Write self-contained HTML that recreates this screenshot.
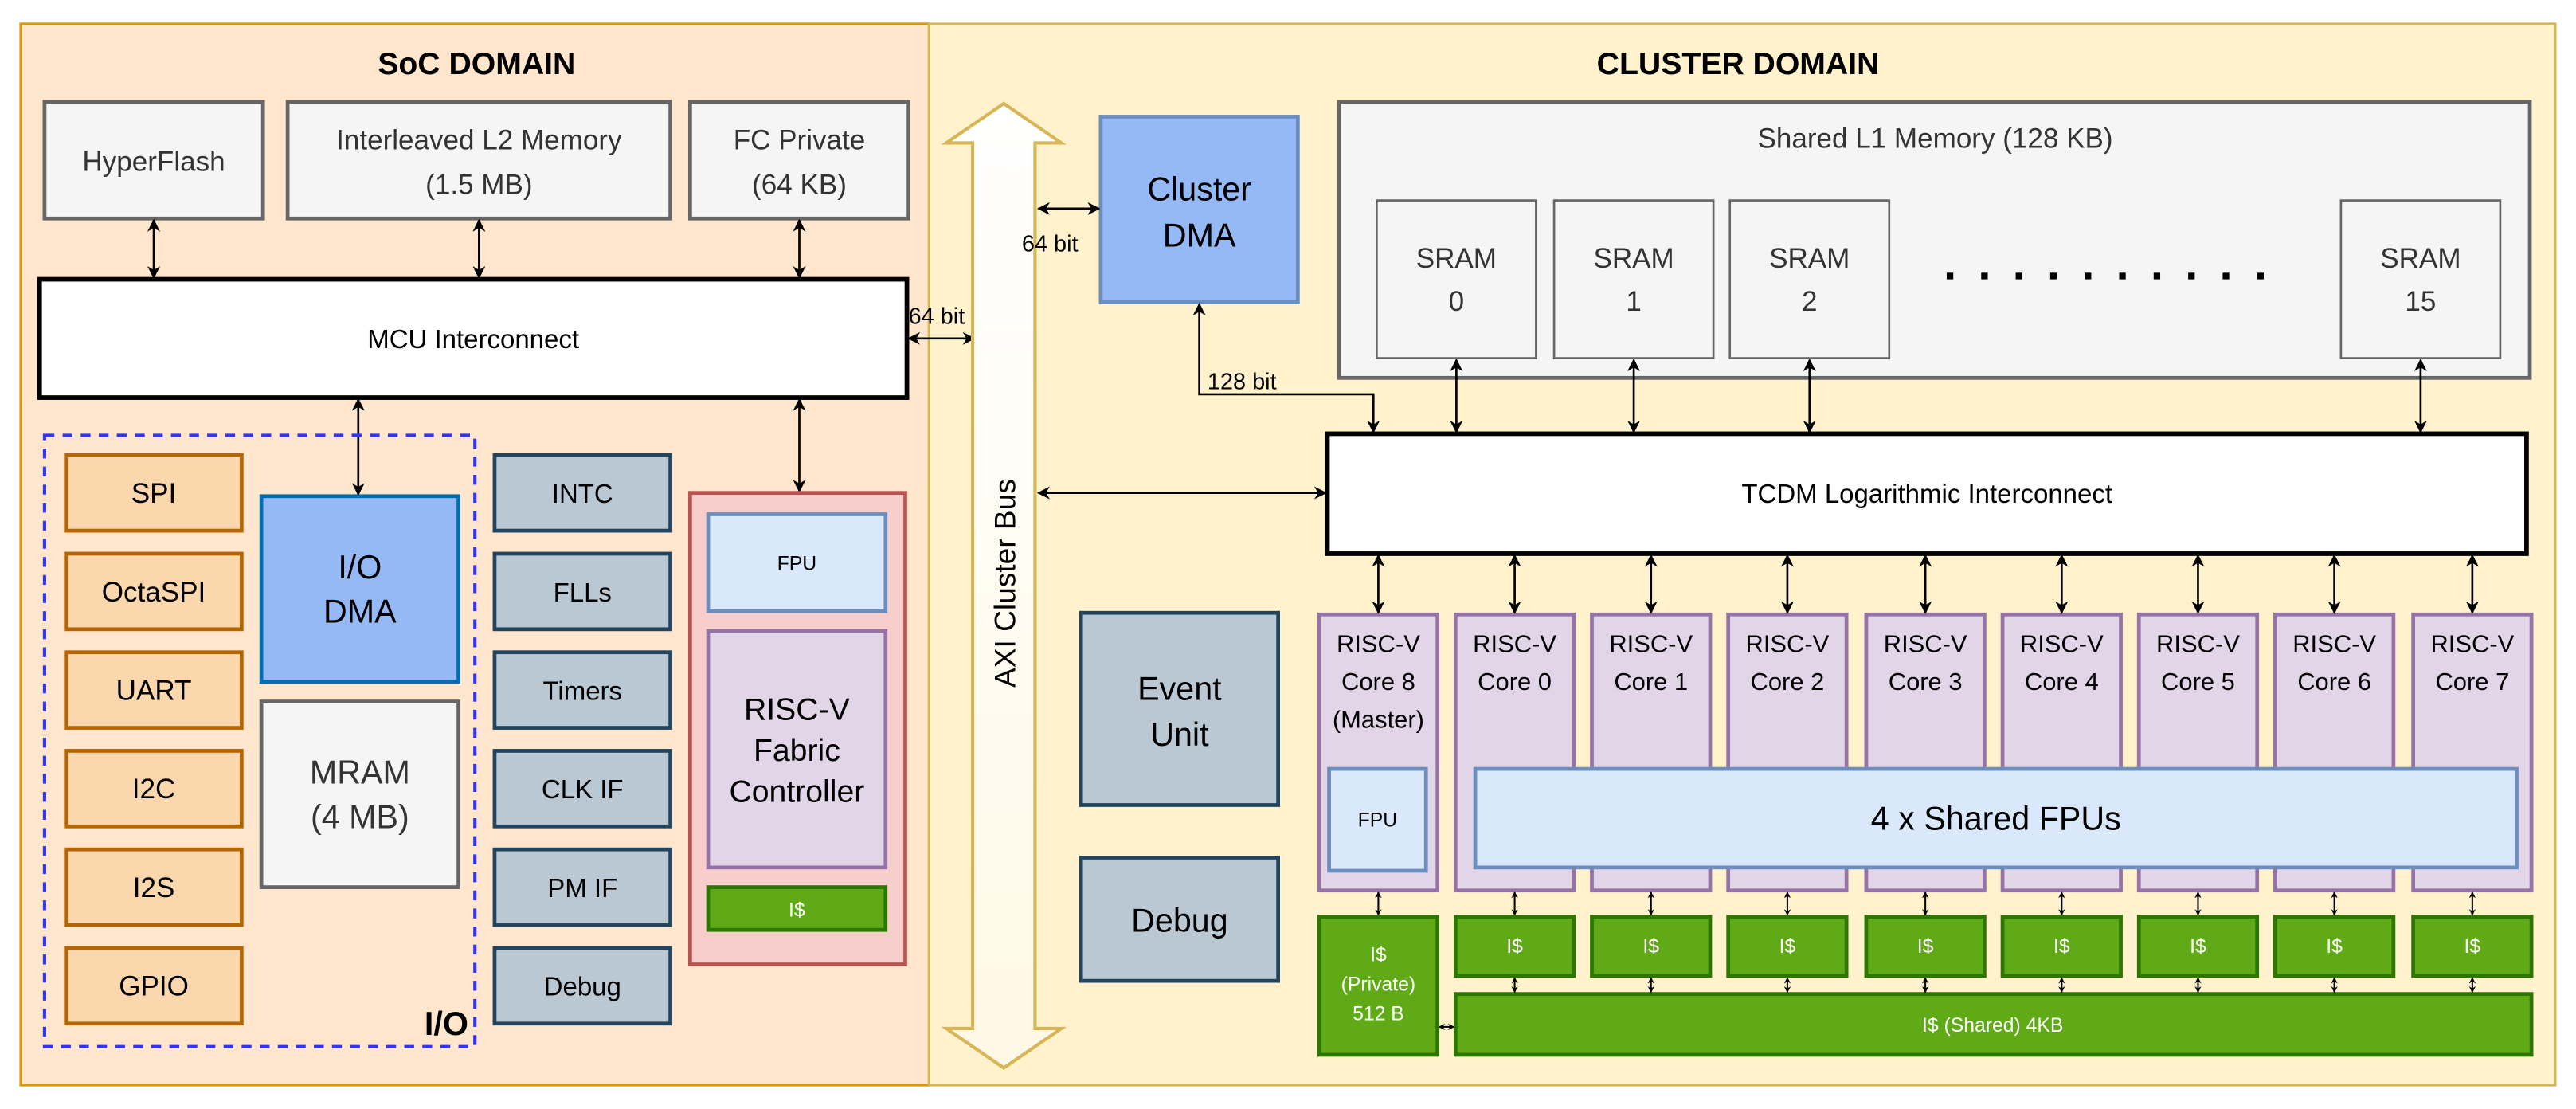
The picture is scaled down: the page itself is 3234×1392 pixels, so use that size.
<!DOCTYPE html>
<html><head><meta charset="utf-8"><style>
html,body{margin:0;padding:0;background:#fff;}
svg{display:block;}
text{font-family:"Liberation Sans",Arial,sans-serif;}
</style></head><body>
<svg width="3234" height="1392" viewBox="0 0 1568 675" xmlns="http://www.w3.org/2000/svg">
<defs>
<marker id="a" viewBox="0 0 10 10" refX="9" refY="5" markerWidth="4" markerHeight="4" orient="auto-start-reverse"><path d="M0,0 L10,5 L0,10 L3,5 z" fill="#000"/></marker>
<marker id="s" viewBox="0 0 10 10" refX="9" refY="5" markerWidth="6" markerHeight="6" orient="auto-start-reverse"><path d="M0,0 L10,5 L0,10 L3,5 z" fill="#000"/></marker>
<linearGradient id="g" x1="0" y1="0" x2="0" y2="1"><stop offset="0" stop-color="#ffffff"/><stop offset="1" stop-color="#fff8e6"/></linearGradient>
</defs>
<rect x="0" y="0" width="1568" height="675" fill="#fff"/>
<rect x="12.5" y="14.5" width="553" height="646" fill="#ffe6cc" stroke="#d79b00" stroke-width="1.5"/>
<rect x="565.5" y="14.5" width="990" height="646" fill="#fff2cc" stroke="#d6b656" stroke-width="1.5"/>
<text x="290" y="45" font-size="19" font-weight="bold" text-anchor="middle">SoC DOMAIN</text>
<text x="1058" y="45" font-size="19" font-weight="bold" text-anchor="middle">CLUSTER DOMAIN</text>

<g font-size="17" text-anchor="middle" fill="#333">
<rect x="27" y="62" width="133" height="71" fill="#f5f5f5" stroke="#666" stroke-width="2.3"/>
<text x="93.5" y="104">HyperFlash</text>
<rect x="175" y="62" width="233" height="71" fill="#f5f5f5" stroke="#666" stroke-width="2.3"/>
<text x="291.5" y="91">Interleaved L2 Memory</text><text x="291.5" y="118">(1.5 MB)</text>
<rect x="420" y="62" width="133" height="71" fill="#f5f5f5" stroke="#666" stroke-width="2.3"/>
<text x="486.5" y="91">FC Private</text><text x="486.5" y="118">(64 KB)</text>
</g>
<rect x="24" y="170" width="528" height="72" fill="#fff" stroke="#000" stroke-width="2.8"/>
<text x="288" y="212" font-size="16" text-anchor="middle">MCU Interconnect</text>
<g stroke="#000" stroke-width="1.3" marker-start="url(#s)" marker-end="url(#s)">
<line x1="93.5" y1="134" x2="93.5" y2="169"/>
<line x1="291.5" y1="134" x2="291.5" y2="169"/>
<line x1="486.5" y1="134" x2="486.5" y2="169"/>
<line x1="218" y1="243" x2="218" y2="301"/>
<line x1="486.5" y1="243" x2="486.5" y2="299"/>
<line x1="553" y1="206" x2="593" y2="206"/>
</g>
<text x="553" y="197" font-size="14">64 bit</text>

<rect x="27" y="265" width="262" height="372" fill="none" stroke="#3333ff" stroke-width="2" stroke-dasharray="6,5"/>
<text x="285" y="630" font-size="20" font-weight="bold" text-anchor="end">I/O</text>
<g font-size="17" text-anchor="middle">
<rect x="40" y="277" width="107" height="46" fill="#fad7ac" stroke="#b46504" stroke-width="2.3"/><text x="93.5" y="306">SPI</text>
<rect x="40" y="337" width="107" height="46" fill="#fad7ac" stroke="#b46504" stroke-width="2.3"/><text x="93.5" y="366">OctaSPI</text>
<rect x="40" y="397" width="107" height="46" fill="#fad7ac" stroke="#b46504" stroke-width="2.3"/><text x="93.5" y="426">UART</text>
<rect x="40" y="457" width="107" height="46" fill="#fad7ac" stroke="#b46504" stroke-width="2.3"/><text x="93.5" y="486">I2C</text>
<rect x="40" y="517" width="107" height="46" fill="#fad7ac" stroke="#b46504" stroke-width="2.3"/><text x="93.5" y="546">I2S</text>
<rect x="40" y="577" width="107" height="46" fill="#fad7ac" stroke="#b46504" stroke-width="2.3"/><text x="93.5" y="606">GPIO</text>
</g>
<rect x="159" y="302" width="120" height="113" fill="#94b9f5" stroke="#006eaf" stroke-width="2.3"/>
<text x="219" y="352" font-size="20" text-anchor="middle">I/O</text><text x="219" y="379" font-size="20" text-anchor="middle">DMA</text>
<rect x="159" y="427" width="120" height="113" fill="#f5f5f5" stroke="#666" stroke-width="2.3"/>
<text x="219" y="477" font-size="20" text-anchor="middle" fill="#333">MRAM</text><text x="219" y="504" font-size="20" text-anchor="middle" fill="#333">(4 MB)</text>
<g font-size="16" text-anchor="middle">
<rect x="301" y="277" width="107" height="46" fill="#bac8d3" stroke="#23445d" stroke-width="2.3"/><text x="354.5" y="306">INTC</text>
<rect x="301" y="337" width="107" height="46" fill="#bac8d3" stroke="#23445d" stroke-width="2.3"/><text x="354.5" y="366">FLLs</text>
<rect x="301" y="397" width="107" height="46" fill="#bac8d3" stroke="#23445d" stroke-width="2.3"/><text x="354.5" y="426">Timers</text>
<rect x="301" y="457" width="107" height="46" fill="#bac8d3" stroke="#23445d" stroke-width="2.3"/><text x="354.5" y="486">CLK IF</text>
<rect x="301" y="517" width="107" height="46" fill="#bac8d3" stroke="#23445d" stroke-width="2.3"/><text x="354.5" y="546">PM IF</text>
<rect x="301" y="577" width="107" height="46" fill="#bac8d3" stroke="#23445d" stroke-width="2.3"/><text x="354.5" y="606">Debug</text>
</g>
<rect x="420" y="300" width="131" height="287" fill="#f8cecc" stroke="#b85450" stroke-width="2.3"/>
<rect x="431" y="313" width="108" height="59" fill="#dae8fc" stroke="#6c8ebf" stroke-width="2.3"/>
<text x="485" y="347" font-size="12" text-anchor="middle">FPU</text>
<rect x="431" y="384" width="108" height="144" fill="#e1d5e7" stroke="#9673a6" stroke-width="2.3"/>
<text x="485" y="438" font-size="19" text-anchor="middle">RISC-V</text>
<text x="485" y="463" font-size="19" text-anchor="middle">Fabric</text>
<text x="485" y="488" font-size="19" text-anchor="middle">Controller</text>
<rect x="431" y="540" width="108" height="26" fill="#60a917" stroke="#2d7600" stroke-width="2.3"/>
<text x="485" y="558" font-size="12" text-anchor="middle" fill="#fff">I$</text>

<path d="M611,63 L646,87 L630,87 L630,626 L646,626 L611,650 L576,626 L592,626 L592,87 L576,87 Z" fill="url(#g)" stroke="#d6b656" stroke-width="2"/>
<text transform="translate(618,355) rotate(-90)" font-size="18" text-anchor="middle">AXI Cluster Bus</text>

<rect x="670" y="71" width="120" height="113" fill="#94b9f5" stroke="#6c8ebf" stroke-width="2.3"/>
<text x="730" y="122" font-size="20" text-anchor="middle">Cluster</text><text x="730" y="150" font-size="20" text-anchor="middle">DMA</text>
<g stroke="#000" stroke-width="1.3" fill="none">
<line x1="632" y1="127" x2="669" y2="127" marker-start="url(#s)" marker-end="url(#s)"/>
<polyline points="730,185 730,240 836,240 836,263" marker-start="url(#s)" marker-end="url(#s)"/>
<line x1="632" y1="300" x2="807" y2="300" marker-start="url(#s)" marker-end="url(#s)"/>
</g>
<text x="622" y="153" font-size="14">64 bit</text>
<text x="735" y="237" font-size="14">128 bit</text>

<rect x="815" y="62" width="725" height="168" fill="#f5f5f5" stroke="#666" stroke-width="2.3"/>
<text x="1178" y="90" font-size="17" text-anchor="middle" fill="#333">Shared L1 Memory (128 KB)</text>
<g font-size="17" text-anchor="middle" fill="#333">
<rect x="838" y="122" width="97" height="96" fill="#f5f5f5" stroke="#666" stroke-width="1.3"/><text x="886.5" y="163">SRAM</text><text x="886.5" y="189">0</text>
<rect x="946" y="122" width="97" height="96" fill="#f5f5f5" stroke="#666" stroke-width="1.3"/><text x="994.5" y="163">SRAM</text><text x="994.5" y="189">1</text>
<rect x="1053" y="122" width="97" height="96" fill="#f5f5f5" stroke="#666" stroke-width="1.3"/><text x="1101.5" y="163">SRAM</text><text x="1101.5" y="189">2</text>
<rect x="1425" y="122" width="97" height="96" fill="#f5f5f5" stroke="#666" stroke-width="1.3"/><text x="1473.5" y="163">SRAM</text><text x="1473.5" y="189">15</text>
</g>
<g fill="#000">
<rect x="1185" y="166" width="4" height="4"/><rect x="1206" y="166" width="4" height="4"/><rect x="1227" y="166" width="4" height="4"/><rect x="1248" y="166" width="4" height="4"/><rect x="1269" y="166" width="4" height="4"/><rect x="1290" y="166" width="4" height="4"/><rect x="1311" y="166" width="4" height="4"/><rect x="1332" y="166" width="4" height="4"/><rect x="1353" y="166" width="4" height="4"/><rect x="1374" y="166" width="4" height="4"/>
</g>
<g stroke="#000" stroke-width="1.3" marker-start="url(#s)" marker-end="url(#s)">
<line x1="886.5" y1="219" x2="886.5" y2="263"/>
<line x1="994.5" y1="219" x2="994.5" y2="263"/>
<line x1="1101.5" y1="219" x2="1101.5" y2="263"/>
<line x1="1473.5" y1="219" x2="1473.5" y2="263"/>
</g>
<rect x="808" y="264" width="730" height="73" fill="#fff" stroke="#000" stroke-width="2.8"/>
<text x="1173" y="306" font-size="16" text-anchor="middle">TCDM Logarithmic Interconnect</text>

<rect x="658" y="373" width="120" height="117" fill="#bac8d3" stroke="#23445d" stroke-width="2.3"/>
<text x="718" y="426" font-size="20" text-anchor="middle">Event</text><text x="718" y="454" font-size="20" text-anchor="middle">Unit</text>
<rect x="658" y="522" width="120" height="75" fill="#bac8d3" stroke="#23445d" stroke-width="2.3"/>
<text x="718" y="567" font-size="20" text-anchor="middle">Debug</text>

<g font-size="15" text-anchor="middle">
<rect x="803" y="374" width="72" height="168" fill="#e1d5e7" stroke="#9673a6" stroke-width="2.3"/><text x="839" y="397">RISC-V</text><text x="839" y="420">Core 8</text><text x="839" y="443">(Master)</text>
<rect x="886" y="374" width="72" height="168" fill="#e1d5e7" stroke="#9673a6" stroke-width="2.3"/><text x="922" y="397">RISC-V</text><text x="922" y="420">Core 0</text>
<rect x="969" y="374" width="72" height="168" fill="#e1d5e7" stroke="#9673a6" stroke-width="2.3"/><text x="1005" y="397">RISC-V</text><text x="1005" y="420">Core 1</text>
<rect x="1052" y="374" width="72" height="168" fill="#e1d5e7" stroke="#9673a6" stroke-width="2.3"/><text x="1088" y="397">RISC-V</text><text x="1088" y="420">Core 2</text>
<rect x="1136" y="374" width="72" height="168" fill="#e1d5e7" stroke="#9673a6" stroke-width="2.3"/><text x="1172" y="397">RISC-V</text><text x="1172" y="420">Core 3</text>
<rect x="1219" y="374" width="72" height="168" fill="#e1d5e7" stroke="#9673a6" stroke-width="2.3"/><text x="1255" y="397">RISC-V</text><text x="1255" y="420">Core 4</text>
<rect x="1302" y="374" width="72" height="168" fill="#e1d5e7" stroke="#9673a6" stroke-width="2.3"/><text x="1338" y="397">RISC-V</text><text x="1338" y="420">Core 5</text>
<rect x="1385" y="374" width="72" height="168" fill="#e1d5e7" stroke="#9673a6" stroke-width="2.3"/><text x="1421" y="397">RISC-V</text><text x="1421" y="420">Core 6</text>
<rect x="1469" y="374" width="72" height="168" fill="#e1d5e7" stroke="#9673a6" stroke-width="2.3"/><text x="1505" y="397">RISC-V</text><text x="1505" y="420">Core 7</text>
</g>
<rect x="809" y="468" width="59" height="62" fill="#dae8fc" stroke="#6c8ebf" stroke-width="2.3"/>
<text x="838.5" y="503" font-size="12" text-anchor="middle">FPU</text>
<rect x="898" y="468" width="634" height="60" fill="#dae8fc" stroke="#6c8ebf" stroke-width="2.3"/>
<text x="1215" y="505" font-size="20" text-anchor="middle">4 x Shared FPUs</text>
<g stroke="#000" stroke-width="1.3" marker-start="url(#s)" marker-end="url(#s)">
<line x1="839" y1="338" x2="839" y2="373"/><line x1="922" y1="338" x2="922" y2="373"/><line x1="1005" y1="338" x2="1005" y2="373"/><line x1="1088" y1="338" x2="1088" y2="373"/><line x1="1172" y1="338" x2="1172" y2="373"/><line x1="1255" y1="338" x2="1255" y2="373"/><line x1="1338" y1="338" x2="1338" y2="373"/><line x1="1421" y1="338" x2="1421" y2="373"/><line x1="1505" y1="338" x2="1505" y2="373"/>
</g>
<g stroke="#000" stroke-width="1" marker-start="url(#a)" marker-end="url(#a)">
<line x1="839" y1="543" x2="839" y2="557"/><line x1="922" y1="543" x2="922" y2="557"/><line x1="1005" y1="543" x2="1005" y2="557"/><line x1="1088" y1="543" x2="1088" y2="557"/><line x1="1172" y1="543" x2="1172" y2="557"/><line x1="1255" y1="543" x2="1255" y2="557"/><line x1="1338" y1="543" x2="1338" y2="557"/><line x1="1421" y1="543" x2="1421" y2="557"/><line x1="1505" y1="543" x2="1505" y2="557"/>
<line x1="922" y1="595" x2="922" y2="604"/><line x1="1005" y1="595" x2="1005" y2="604"/><line x1="1088" y1="595" x2="1088" y2="604"/><line x1="1172" y1="595" x2="1172" y2="604"/><line x1="1255" y1="595" x2="1255" y2="604"/><line x1="1338" y1="595" x2="1338" y2="604"/><line x1="1421" y1="595" x2="1421" y2="604"/><line x1="1505" y1="595" x2="1505" y2="604"/>
<line x1="876" y1="625" x2="885" y2="625"/>
</g>
<g fill="#60a917" stroke="#2d7600" stroke-width="2.3">
<rect x="803" y="558" width="72" height="84"/>
<rect x="886" y="558" width="72" height="36"/><rect x="969" y="558" width="72" height="36"/><rect x="1052" y="558" width="72" height="36"/><rect x="1136" y="558" width="72" height="36"/><rect x="1219" y="558" width="72" height="36"/><rect x="1302" y="558" width="72" height="36"/><rect x="1385" y="558" width="72" height="36"/><rect x="1469" y="558" width="72" height="36"/>
<rect x="886" y="605" width="655" height="37"/>
</g>
<g fill="#fff" font-size="12" text-anchor="middle">
<text x="839" y="585">I$</text><text x="839" y="603">(Private)</text><text x="839" y="621">512 B</text>
<text x="922" y="580">I$</text><text x="1005" y="580">I$</text><text x="1088" y="580">I$</text><text x="1172" y="580">I$</text><text x="1255" y="580">I$</text><text x="1338" y="580">I$</text><text x="1421" y="580">I$</text><text x="1505" y="580">I$</text>
<text x="1213" y="628">I$ (Shared) 4KB</text>
</g>
</svg>
</body></html>
